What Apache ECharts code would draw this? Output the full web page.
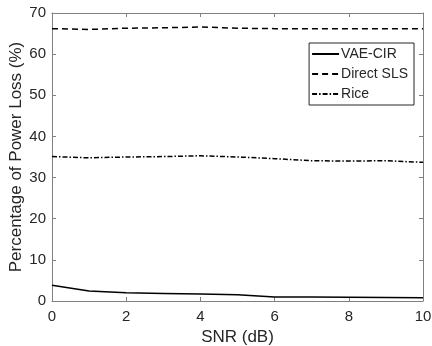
<!DOCTYPE html>
<html>
<head>
<meta charset="utf-8">
<script src="https://cdn.jsdelivr.net/npm/echarts@6/dist/echarts.min.js"></script>
<style>
  html, body { margin: 0; padding: 0; background: #fff; }
  #chart { width: 432px; height: 346px; }
</style>
</head>
<body>
<div id="chart"></div>
<script>
  // SNR values (dB)
  var snr = [0, 1, 2, 3, 4, 5, 6, 7, 8, 9, 10];
  // percentage of power loss for each method
  var vaeCir = [3.8, 2.45, 2.0, 1.85, 1.7, 1.5, 1.0, 0.95, 0.9, 0.85, 0.8];
  var directSls = [66.2, 66.0, 66.3, 66.4, 66.6, 66.3, 66.2, 66.2, 66.2, 66.2, 66.2];
  var rice = [35.1, 34.8, 35.0, 35.1, 35.3, 35.0, 34.6, 34.1, 34.0, 34.1, 33.7];

  var axisColor = '#808080';
  var textColor = '#262626';
  var font = 'Liberation Sans, Arial, Helvetica, sans-serif';

  function pairs(ys) {
    var out = [];
    for (var i = 0; i < snr.length; i++) {
      out.push([snr[i], ys[i]]);
    }
    return out;
  }

  var chart = echarts.init(document.getElementById('chart'), null, { renderer: 'canvas' });

  var tickStyle = { show: true, inside: true, length: 4, lineStyle: { color: axisColor } };
  var lineStyleAxis = { show: true, onZero: false, lineStyle: { color: axisColor, width: 1 } };

  var option = {
    animation: false,
    backgroundColor: '#fff',
    grid: { left: 52, right: 9, top: 13, bottom: 45, containLabel: false, outerBoundsMode: 'none' },
    legend: {
      orient: 'vertical',
      right: 18,
      top: 43,
      width: 104,
      backgroundColor: '#fff',
      borderColor: '#262626',
      borderWidth: 1,
      borderRadius: 0,
      padding: [4, 6, 4, 2],
      itemWidth: 27,
      itemHeight: 10,
      itemGap: 6,
      itemStyle: { opacity: 0 },
      textStyle: { fontFamily: font, fontSize: 14, color: textColor, padding: [0, 0, 0, -3] },
      data: ['VAE-CIR', 'Direct SLS', 'Rice']
    },
    xAxis: [
      {
        type: 'value',
        min: 0, max: 10, interval: 2,
        name: 'SNR (dB)',
        nameLocation: 'middle',
        nameGap: 28,
        nameTextStyle: { fontFamily: font, fontSize: 17, color: textColor },
        axisLine: lineStyleAxis,
        axisTick: tickStyle,
        axisLabel: { fontFamily: font, fontSize: 15, color: textColor, margin: 8 },
        splitLine: { show: false }
      },
      {
        type: 'value',
        position: 'top',
        min: 0, max: 10, interval: 2,
        axisLine: lineStyleAxis,
        axisTick: tickStyle,
        axisLabel: { show: false },
        splitLine: { show: false }
      }
    ],
    yAxis: [
      {
        type: 'value',
        min: 0, max: 70, interval: 10,
        name: 'Percentage of Power Loss (%)',
        nameLocation: 'middle',
        nameGap: 27,
        nameMoveOverlap: false,
        nameTextStyle: { fontFamily: font, fontSize: 17, color: textColor },
        axisLine: lineStyleAxis,
        axisTick: tickStyle,
        axisLabel: { fontFamily: font, fontSize: 15, color: textColor, margin: 6 },
        splitLine: { show: false }
      },
      {
        type: 'value',
        position: 'right',
        min: 0, max: 70, interval: 10,
        axisLine: lineStyleAxis,
        axisTick: tickStyle,
        axisLabel: { show: false },
        splitLine: { show: false }
      }
    ],
    series: [
      {
        name: 'VAE-CIR',
        type: 'line',
        symbol: 'none',
        data: pairs(vaeCir),
        itemStyle: { color: '#000' },
        lineStyle: { color: '#000', width: 1.5, type: 'solid' }
      },
      {
        name: 'Direct SLS',
        type: 'line',
        symbol: 'none',
        data: pairs(directSls),
        itemStyle: { color: '#000' },
        lineStyle: { color: '#000', width: 1.5, type: [6, 4] }
      },
      {
        name: 'Rice',
        type: 'line',
        symbol: 'none',
        data: pairs(rice),
        itemStyle: { color: '#000' },
        lineStyle: { color: '#000', width: 1.5, type: [5, 2, 1.5, 2] }
      }
    ]
  };

  chart.setOption(option);
</script>
</body>
</html>
